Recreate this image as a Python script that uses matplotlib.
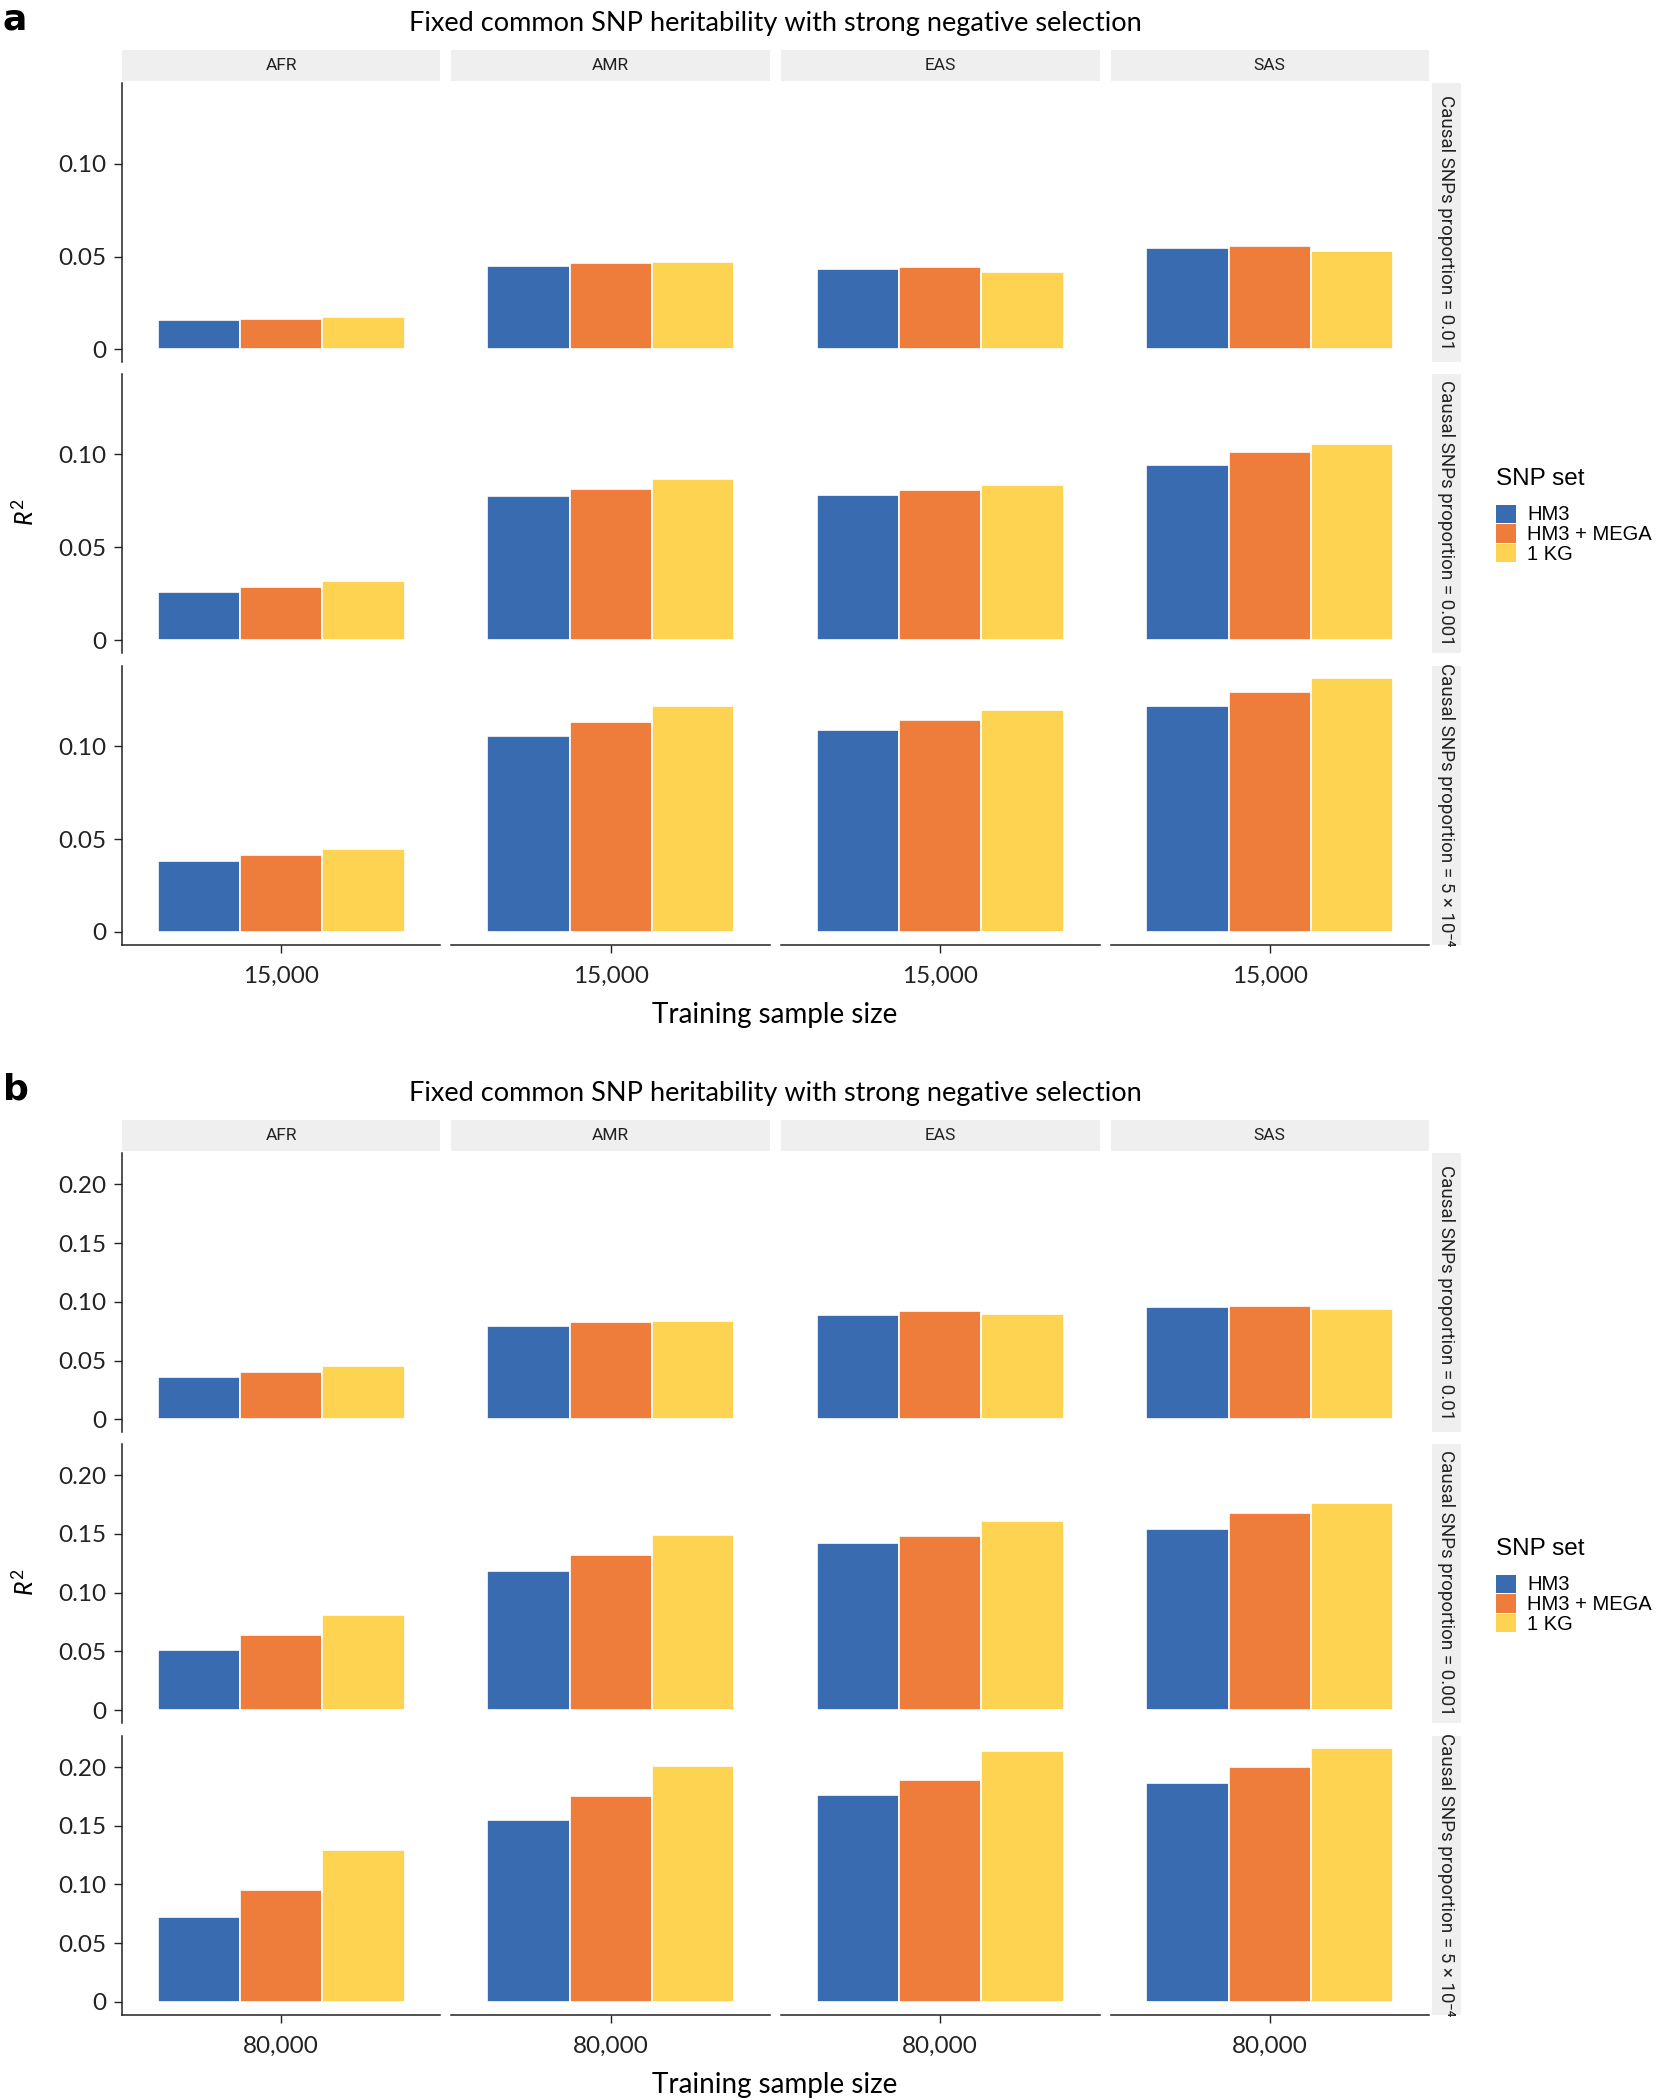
import matplotlib
matplotlib.use('Agg')
import matplotlib.pyplot as plt
from matplotlib.patches import Patch

plt.rcParams['font.family'] = ['Lato', 'DejaVu Sans']
plt.rcParams['mathtext.fontset'] = 'custom'
plt.rcParams['mathtext.it'] = 'Lato:italic'
plt.rcParams['mathtext.rm'] = 'Lato'

ancestries = ['AFR', 'AMR', 'EAS', 'SAS']
snp_sets = ['HM3', 'HM3 + MEGA', '1 KG']
colors = ['#386BAF', '#EE7D3B', '#FED352']
row_labels = ['Causal SNPs proportion = 0.01',
              'Causal SNPs proportion = 0.001',
              'Causal SNPs proportion = 5 × 10⁻⁴']
title = 'Fixed common SNP heritability with strong negative selection'

# R2 per ancestry (AFR, AMR, EAS, SAS); each entry = [HM3, HM3+MEGA, 1KG]
# panel a: training n = 15,000
a_p001 = [[0.0158, 0.0166, 0.0174], [0.0448, 0.0466, 0.0468],
          [0.0432, 0.0446, 0.0417], [0.0545, 0.0556, 0.0532]]
a_p0001 = [[0.0259, 0.0288, 0.0317], [0.0777, 0.0813, 0.0870],
           [0.0784, 0.0806, 0.0835], [0.0942, 0.1014, 0.1058]]
a_p00005 = [[0.0381, 0.0417, 0.0446], [0.1058, 0.1130, 0.1216],
            [0.1086, 0.1144, 0.1194], [0.1216, 0.1295, 0.1367]]
# panel b: training n = 80,000
b_p001 = [[0.0363, 0.0405, 0.0450], [0.0795, 0.0828, 0.0840],
          [0.0886, 0.0920, 0.0898], [0.0955, 0.0966, 0.0943]]
b_p0001 = [[0.0511, 0.0636, 0.0807], [0.1180, 0.1320, 0.1490],
           [0.1420, 0.1480, 0.1610], [0.1545, 0.1680, 0.1760]]
b_p00005 = [[0.0727, 0.0955, 0.1295], [0.1545, 0.1750, 0.2010],
            [0.1760, 0.1886, 0.2136], [0.1864, 0.2000, 0.2160]]

panels = [
    ('a', '15,000', [a_p001, a_p0001, a_p00005], [0, 0.05, 0.10], ['0', '0.05', '0.10']),
    ('b', '80,000', [b_p001, b_p0001, b_p00005], [0, 0.05, 0.10, 0.15, 0.20],
     ['0', '0.05', '0.10', '0.15', '0.20']),
]

W, H = 1662, 2100
fig = plt.figure(figsize=(W / 100, H / 100), dpi=100)


def box(x0, y0, w, h):
    # pixel box (top-left origin) -> figure fraction rect
    return [x0 / W, 1 - (y0 + h) / H, w / W, h / H]


col_left = [122, 451.5, 781, 1110.5]
col_w = 318.5
row_top = [83, 373.7, 665.6]
row_h = 279
strip_fc = '#EFEFEF'
ink = '#222222'
bw = 0.31

for p, (tag, n_label, rows, yticks, yticklabels) in enumerate(panels):
    off = p * 1070
    ymax = max(v for row in rows for anc in row for v in anc)
    ylim = (-0.05 * ymax, 1.05 * ymax)

    fig.text(3 / W, 1 - (off + 20) / H, tag, fontsize=26, fontweight='bold',
             family=['DejaVu Sans'], va='center', ha='left')
    fig.text(775 / W, 1 - (off + 23) / H, title, fontsize=19.5, ha='center', va='center')

    for c, anc in enumerate(ancestries):
        sax = fig.add_axes(box(col_left[c], off + 49.6, col_w, 31))
        sax.set_facecolor(strip_fc)
        sax.set_xticks([]); sax.set_yticks([])
        for s in sax.spines.values():
            s.set_visible(False)
        sax.text(0.5, 0.5, anc, ha='center', va='center', fontsize=12.5,
                 family=['Roboto', 'DejaVu Sans'], color=ink)

    for r, row in enumerate(rows):
        rax = fig.add_axes(box(1431.7, off + row_top[r], 29.5, row_h))
        rax.set_facecolor(strip_fc)
        rax.set_xticks([]); rax.set_yticks([])
        for s in rax.spines.values():
            s.set_visible(False)
        rax.text(0.5, 0.5, row_labels[r], ha='center', va='center', rotation=-90,
                 fontsize=13.5, family=['Roboto', 'DejaVu Sans'], color=ink)

        for c, anc in enumerate(ancestries):
            ax = fig.add_axes(box(col_left[c], off + row_top[r], col_w, row_h))
            vals = row[c]
            for k, v in enumerate(vals):
                ax.bar(1 + (k - 1) * bw, v, width=bw, color=colors[k],
                       edgecolor='white', linewidth=1.2)
            ax.set_xlim(0.4, 1.6)
            ax.set_ylim(*ylim)
            for s in ['top', 'right']:
                ax.spines[s].set_visible(False)
            ax.spines['left'].set_visible(c == 0)
            ax.spines['bottom'].set_visible(r == len(rows) - 1)
            for s in ['left', 'bottom']:
                ax.spines[s].set_color(ink)
                ax.spines[s].set_linewidth(1.1)
            ax.tick_params(colors=ink, width=1.0, length=6, labelsize=17.5, pad=5)
            ax.tick_params(axis='x', pad=9)
            if c == 0:
                ax.set_yticks(yticks)
                ax.set_yticklabels(yticklabels)
            else:
                ax.set_yticks([])
            if r == len(rows) - 1:
                ax.set_xticks([1])
                ax.set_xticklabels([n_label])
            else:
                ax.set_xticks([])

    fig.text(775 / W, 1 - (off + 1015) / H, 'Training sample size', fontsize=20,
             ha='center', va='center')
    fig.text(24 / W, 1 - (off + 512) / H, '$R^2$', fontsize=18, rotation=90,
             ha='center', va='center')

    handles = [Patch(facecolor=col, edgecolor='none') for col in colors]
    leg = fig.legend(handles, snp_sets, title='SNP set', loc='upper left',
                     bbox_to_anchor=(1496 / W, 1 - (off + 468) / H), frameon=False,
                     handlelength=1.0, handleheight=1.0, labelspacing=0.0,
                     handletextpad=0.55, borderaxespad=0, borderpad=0,
                     prop={'family': ['Liberation Sans', 'DejaVu Sans'], 'size': 14.5},
                     alignment='left')
    leg.get_title().set_fontsize(17.5)
    leg.get_title().set_family(['Liberation Sans', 'DejaVu Sans'])
    leg._legend_box.sep = 10.5

fig.savefig('out.png', dpi=100, facecolor='white')
